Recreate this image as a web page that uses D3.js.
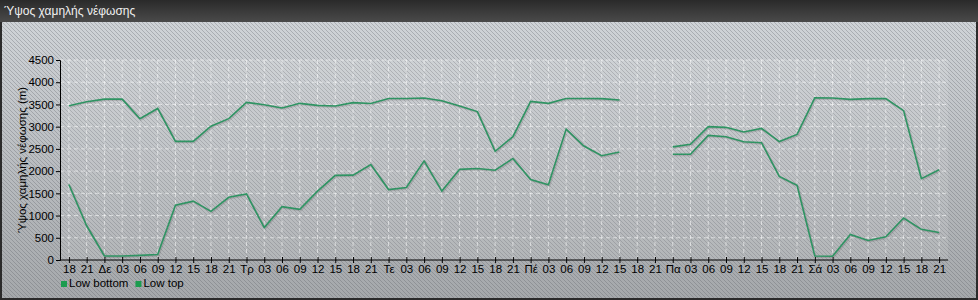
<!DOCTYPE html>
<html>
<head>
<meta charset="utf-8">
<script src="https://cdn.jsdelivr.net/npm/d3@7"></script>
<style>
  html, body { margin: 0; padding: 0; background: #fff; }
  svg { display: block; font-family: "Liberation Sans", Arial, sans-serif; }
</style>
</head>
<body>
<div id="chart"></div>
<script>
// tick labels along the time axis (every 3 hours)
const hourLabels = ['18', '21',
  'Δε', '03', '06', '09', '12', '15', '18', '21',
  'Τρ', '03', '06', '09', '12', '15', '18', '21',
  'Τε', '03', '06', '09', '12', '15', '18', '21',
  'Πέ', '03', '06', '09', '12', '15', '18', '21',
  'Πα', '03', '06', '09', '12', '15', '18', '21',
  'Σά', '03', '06', '09', '12', '15', '18', '21'];

const lowTop = [3470, 3560, 3620, 3620, 3180, 3410, 2670, 2670, 3010, 3180,
  3545, 3495, 3420, 3525, 3480, 3465, 3540, 3520, 3635, 3635,
  3645, 3585, 3465, 3340, 2445, 2775, 3570, 3525, 3635, 3635,
  3630, 3600, null, null, 2545, 2605, 3000, 2985, 2880, 2960,
  2665, 2825, 3650, 3645, 3615, 3630, 3630, 3360, 1830, 2030];

const lowBottom = [1700, 770, 90, 90, 105, 125, 1235, 1325, 1095, 1410,
  1485, 730, 1200, 1140, 1550, 1905, 1910, 2150, 1585, 1630,
  2230, 1550, 2040, 2060, 2020, 2285, 1810, 1695, 2945, 2565,
  2345, 2430, null, null, 2380, 2380, 2805, 2775, 2660, 2640,
  1880, 1680, 90, 85, 575, 440, 520, 945, 690, 620];

const seriesNames = ['Low bottom', 'Low top'];
const yTicks = d3.range(0, 4501, 500);

const width = 978, height = 300;
const margin = {top: 60, right: 30, bottom: 40, left: 60};
const lineColor = '#2f9463';

const svg = d3.select('#chart').append('svg')
  .attr('width', width).attr('height', height);

const defs = svg.append('defs');
const bg = defs.append('linearGradient').attr('id', 'bg').attr('x1', 0).attr('y1', 0).attr('x2', 0).attr('y2', 1);
bg.append('stop').attr('offset', '0%').attr('stop-color', '#cfd3d7');
bg.append('stop').attr('offset', '100%').attr('stop-color', '#a5a8ab');
const head = defs.append('linearGradient').attr('id', 'head').attr('x1', 0).attr('y1', 0).attr('x2', 0).attr('y2', 1);
head.append('stop').attr('offset', '0%').attr('stop-color', '#2a2a2a');
head.append('stop').attr('offset', '100%').attr('stop-color', '#4a4a4a');
const stripes = defs.append('pattern').attr('id', 'stripes')
  .attr('width', 4).attr('height', 4).attr('patternUnits', 'userSpaceOnUse');
stripes.append('path').attr('d', 'M-1,-1 L5,5 M-1,3 L1,5 M3,-1 L5,1')
  .attr('stroke', 'rgba(85,90,95,0.3)').attr('stroke-width', 1);

// frame, panel and title bar
svg.append('rect').attr('width', width).attr('height', height).attr('fill', '#2b2b2b');
svg.append('rect').attr('x', 2).attr('y', 22).attr('width', width - 4).attr('height', height - 24).attr('fill', 'url(#bg)');
svg.append('rect').attr('x', 2).attr('y', 22).attr('width', width - 4).attr('height', height - 24).attr('fill', 'url(#stripes)');
svg.append('rect').attr('width', width).attr('height', 22).attr('fill', 'url(#head)');
svg.append('text').attr('x', 4).attr('y', 15).attr('fill', '#f0f0f0')
  .attr('font-size', 12).text('Ύψος χαμηλής νέφωσης');

const x = d3.scalePoint().domain(d3.range(hourLabels.length))
  .range([margin.left, width - margin.right]).padding(0.5);
const y = d3.scaleLinear().domain([0, 4500]).range([height - margin.bottom, margin.top]);

// plot area highlight
svg.append('rect').attr('x', margin.left).attr('y', margin.top)
  .attr('width', width - margin.right - margin.left).attr('height', y(0) - margin.top)
  .attr('fill', 'rgba(255,255,255,0.1)');

// grid
const grid = svg.append('g').attr('stroke', 'rgba(255,255,255,0.55)').attr('stroke-dasharray', '4,3');
grid.selectAll('.h').data(yTicks.slice(1)).join('line')
  .attr('x1', margin.left).attr('x2', width - margin.right)
  .attr('y1', d => y(d)).attr('y2', d => y(d));
grid.selectAll('.v').data(x.domain()).join('line')
  .attr('x1', d => x(d)).attr('x2', d => x(d))
  .attr('y1', margin.top).attr('y2', y(0));

// lines
const line = d3.line().defined(d => d != null).x((d, i) => x(i)).y(d => y(d));
[lowBottom, lowTop].forEach(s => {
  svg.append('path').attr('d', line(s)).attr('fill', 'none')
    .attr('stroke', 'rgba(60,60,60,0.18)').attr('stroke-width', 2).attr('transform', 'translate(1,1)');
  svg.append('path').attr('d', line(s)).attr('fill', 'none')
    .attr('stroke', lineColor).attr('stroke-width', 1.6);
});

// axes
const xAxis = svg.append('g').attr('transform', `translate(0,${y(0)})`)
  .call(d3.axisBottom(x).tickFormat(i => hourLabels[i]).tickSizeOuter(0).tickSize(3).tickPadding(2));
xAxis.selectAll('.tick line').attr('y1', -3);
const yAxis = svg.append('g').attr('transform', `translate(${margin.left},0)`)
  .call(d3.axisLeft(y).tickValues(yTicks).tickFormat(d3.format('d')).tickSizeOuter(0).tickSize(4).tickPadding(2));
[xAxis, yAxis].forEach(g => {
  g.selectAll('text').attr('fill', '#000').attr('font-size', 11.5).attr('font-family', '"Liberation Sans", Arial, sans-serif');
  g.selectAll('line,path').attr('stroke', '#000');
});
xAxis.select('.domain').attr('d', `M${margin.left},0H${width - margin.right}`);

svg.append('text').attr('transform', `translate(26,${(y(0) + margin.top) / 2}) rotate(-90)`)
  .attr('text-anchor', 'middle').attr('font-size', 11.5).attr('fill', '#000')
  .text('Ύψος χαμηλής νέφωσης (m)');

// legend
const legend = svg.append('g').attr('transform', 'translate(61,280)');
let lx = 0;
seriesNames.forEach(name => {
  const item = legend.append('g').attr('transform', `translate(${lx},0)`);
  item.append('rect').attr('y', 1).attr('width', 6).attr('height', 6).attr('fill', '#1c9c4f');
  const t = item.append('text').attr('x', 8).attr('y', 7).attr('font-size', 11.5).attr('fill', '#000').text(name);
  lx += 8 + t.node().getComputedTextLength() + 7;
});
</script>
</body>
</html>
